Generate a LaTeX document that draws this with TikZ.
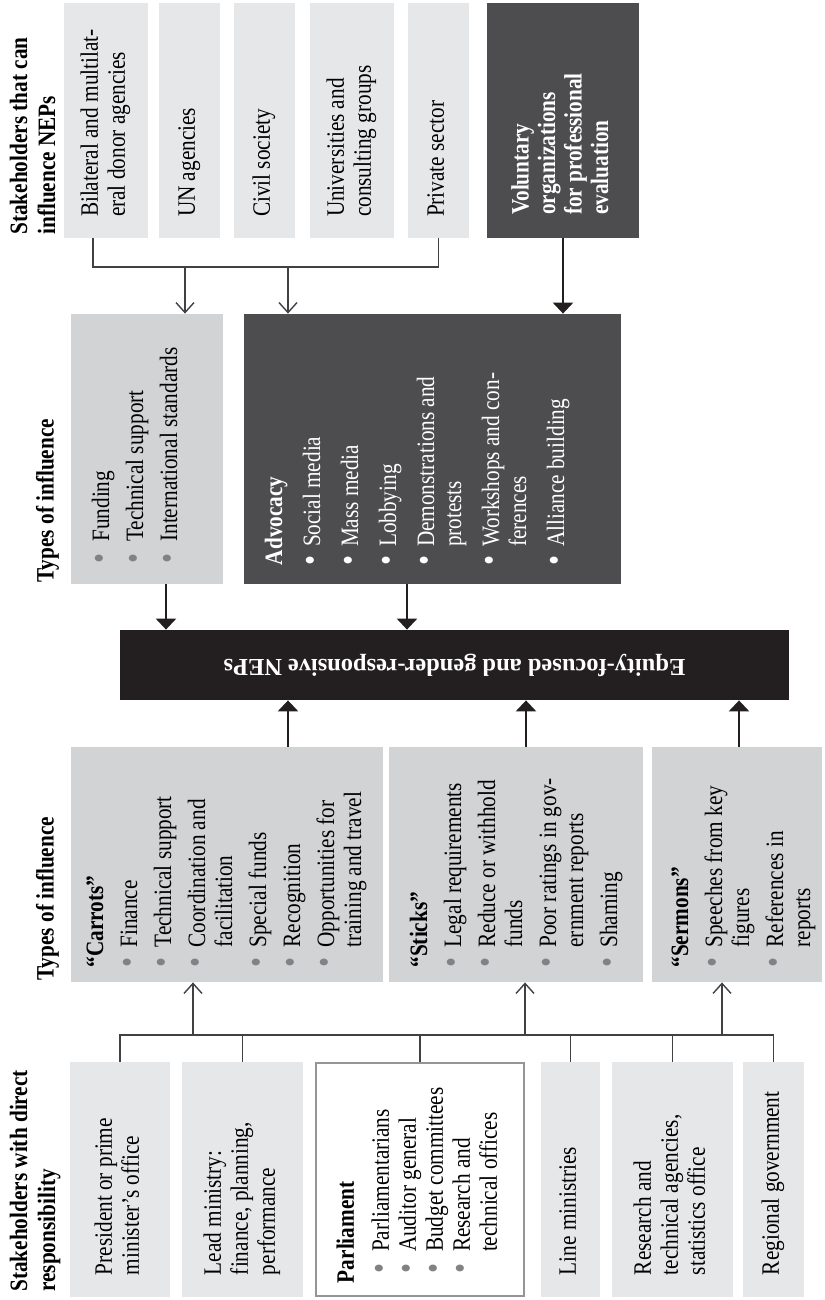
\documentclass[tikz,border=0pt]{standalone}
\usepackage{fontspec}
\setmainfont{Liberation Serif}[FakeStretch=0.85]
\newfontfamily\widefont{Liberation Serif}
\usetikzlibrary{arrows.meta,calc}

\definecolor{boxlight}{HTML}{E6E7E8}
\definecolor{boxmid}{HTML}{D1D3D4}
\definecolor{boxdark}{HTML}{4D4D4F}
\definecolor{boxblack}{HTML}{231F20}
\definecolor{dotgray}{HTML}{808285}
\definecolor{linegray}{HTML}{414042}
\definecolor{framegray}{HTML}{939598}

\newcommand{\bul}{\textcolor{dotgray}{\raisebox{-0.6pt}{\scalebox{1.35}{\textbullet}}}}
\newcommand{\wbul}{\raisebox{-0.6pt}{\scalebox{1.35}{\textbullet}}}
% text turned up the page, starting a fixed way above the bottom of its box
\newcommand{\upbox}[2]{\rotatebox{90}{\parbox{#1}{\begin{tabular}{@{}l@{}}#2\end{tabular}}}}
% bullet list turned up the page, hung from the left side of its box
\newcommand{\uplist}[4]{\rotatebox{90}{\parbox[c][#1][t]{#2}{\begin{tabular}{@{}l@{\hspace{#3}}l@{}}#4\end{tabular}}}}
\newcommand{\hd}[1]{\multicolumn{2}{@{}l@{}}{\textbf{#1}}}

\begin{document}
\begin{tikzpicture}[x=0.5pt,y=-0.5pt,
  every node/.style={inner sep=0pt,font=\fontsize{12.5}{13.5}\selectfont},
  title/.style={rotate=90,anchor=base west,font=\fontsize{12.5}{14}\selectfont\bfseries},
  light box/.style={fill=boxlight,minimum height=117.5pt},
  mid box/.style={fill=boxmid},
  dark box/.style={fill=boxdark,text=white},
  bus/.style={draw=linegray,line width=0.7pt},
  thin arrow/.style={draw=linegray,line width=0.7pt,-{Straight Barb[length=5pt,width=9pt]}},
  thick arrow/.style={draw=boxblack,line width=1.3pt,-{Triangle[length=5.5pt,width=10pt]}}]

\useasboundingbox (0,0) rectangle (824,1300);

% stakeholders that can influence
  \node[title] (t1) at (27,235) {\begin{tabular}[t]{@{}l@{}}Stakeholders that can\\influence NEPs\end{tabular}};
  \node[light box,minimum width=42pt] (bil) at (106,120.5) {\upbox{96.5pt}{Bilateral and multilat-\\eral donor agencies}};
  \node[light box,minimum width=30.5pt] (un) at (189.5,120.5) {\upbox{96.5pt}{UN agencies}};
  \node[light box,minimum width=30.5pt] (civ) at (264.5,120.5) {\upbox{96.5pt}{Civil society}};
  \node[light box,minimum width=42pt] (uni) at (352,120.5) {\upbox{96.5pt}{Universities and\\consulting groups}};
  \node[light box,minimum width=30.5pt] (priv) at (438.5,120.5) {\upbox{96.5pt}{Private sector}};
  \node[dark box,minimum width=76pt,minimum height=117.5pt,font=\fontsize{12.5}{13.25}\selectfont\bfseries] (vol) at (563,120.5)
    {\upbox{94.5pt}{Voluntary\\organizations\\for professional\\evaluation}};

% types of influence, upper
  \node[title] (t2) at (53.5,583) {Types of influence};
  \node[mid box,minimum width=76pt,minimum height=135pt] (fund) at (147,449)
    {\uplist{56.9pt}{114.7pt}{6pt}{\bul & Funding\\[3.5pt] \bul & Technical support\\[3.5pt] \bul & International standards}};
  \node[dark box,minimum width=188.5pt,minimum height=135pt] (adv) at (432.5,449)
    {\uplist{169.4pt}{116pt}{4pt}{\hd{Advocacy}\\[5.5pt]
      \wbul & Social media\\[5.5pt]
      \wbul & Mass media\\[5.5pt]
      \wbul & Lobbying\\[5.5pt]
      \wbul & Demonstrations and\\ & protests\\[5.5pt]
      \wbul & Workshops and con-\\ & ferences\\[5.5pt]
      \wbul & Alliance building}};

% the NEPs
  \node[fill=boxblack,text=white,minimum width=334.5pt,minimum height=35pt,
    font=\widefont\fontsize{12.2}{13}\selectfont\bfseries] (ctr) at (454.5,665)
    {\rotatebox{180}{Equity-focused and gender-responsive NEPs}};

% types of influence, lower
  \node[title] (t3) at (53.5,981) {Types of influence};
  \node[mid box,minimum width=156pt,minimum height=117.5pt] (car) at (227,864.5)
    {\uplist{142.9pt}{103pt}{5pt}{\hd{``Carrots''}\\[3.5pt]
      \bul & Finance\\[3.5pt]
      \bul & Technical support\\[3.5pt]
      \bul & Coordination and\\ & facilitation\\[3.5pt]
      \bul & Special funds\\[3.5pt]
      \bul & Recognition\\[3.5pt]
      \bul & Opportunities for\\ & training and travel}};
  \node[mid box,minimum width=127pt,minimum height=117.5pt] (stk) at (516,864.5)
    {\uplist{107.9pt}{103pt}{5pt}{\hd{``Sticks''}\\[3.5pt]
      \bul & Legal requirements\\[3.5pt]
      \bul & Reduce or withhold\\ & funds\\[3.5pt]
      \bul & Poor ratings in gov-\\ & ernment reports\\[3.5pt]
      \bul & Shaming}};
  \node[mid box,minimum width=85pt,minimum height=117.5pt] (ser) at (737,864.5)
    {\uplist{67.9pt}{103pt}{5pt}{\hd{``Sermons''}\\[3.5pt]
      \bul & Speeches from key\\ & figures\\[3.5pt]
      \bul & References in\\ & reports}};

% stakeholders with direct responsibility
  \node[title] (t4) at (27,1292) {\begin{tabular}[t]{@{}l@{}}Stakeholders with direct\\responsibility\end{tabular}};
  \node[light box,minimum width=50pt] (pres) at (120,1179.5) {\upbox{95.5pt}{President or prime\\minister's office}};
  \node[light box,minimum width=60.5pt] (lead) at (242.5,1179.5) {\upbox{95.5pt}{Lead ministry:\\finance, planning,\\performance}};
  \node[draw=framegray,line width=1.2pt,fill=white,minimum width=104pt,minimum height=116.3pt] (parl) at (420,1179.5)
    {\rotatebox{90}{\parbox{103.5pt}{\begin{tabular}{@{}l@{\hspace{5.5pt}}l@{}}\hd{Parliament}\\[4pt]
      \hspace{5pt}\bul & Parliamentarians\\
      \hspace{5pt}\bul & Auditor general\\
      \hspace{5pt}\bul & Budget committees\\
      \hspace{5pt}\bul & Research and\\ & technical offices\end{tabular}}}};
  \node[light box,minimum width=29.5pt] (line) at (570.5,1179.5) {\upbox{95.5pt}{Line ministries}};
  \node[light box,minimum width=60.5pt] (res) at (672.5,1179.5) {\upbox{95.5pt}{Research and\\technical agencies,\\statistics office}};
  \node[light box,minimum width=30.5pt] (reg) at (773.5,1179.5) {\upbox{95.5pt}{Regional government}};

% upper bracket
  \coordinate (ubus) at (93,267);
  \coordinate (ua) at (185,267);
  \coordinate (ub) at (288,267);
  \draw[bus] (ubus |- bil.south) -- (ubus) -| (priv.south);
  \draw[thin arrow] (ua) -- (ua |- fund.north);
  \draw[thin arrow] (ub) -- (ub |- adv.north);
  \draw[thick arrow] (vol.south) -- (vol.south |- adv.north);

% into the NEPs
  \coordinate (fa) at (166,0);
  \coordinate (aa) at (407,0);
  \coordinate (ca) at (288,0);
  \coordinate (sa) at (526,0);
  \coordinate (ra) at (739,0);
  \draw[thick arrow] (fa |- fund.south) -- (fa |- ctr.north);
  \draw[thick arrow] (aa |- adv.south) -- (aa |- ctr.north);
  \draw[thick arrow] (ca |- car.north) -- (ca |- ctr.south);
  \draw[thick arrow] (sa |- stk.north) -- (sa |- ctr.south);
  \draw[thick arrow] (ra |- ser.north) -- (ra |- ctr.south);

% lower bracket
  \coordinate (lbus) at (0,1035);
  \coordinate (cu) at (193,1035);
  \coordinate (su) at (525,1035);
  \coordinate (ru) at (722,1035);
  \draw[bus] (pres.north) |- (lbus -| reg.north) -- (reg.north);
  \foreach \n in {lead,parl,line,res}
    \draw[bus] (\n.north) -- (lbus -| \n.north);
  \draw[thin arrow] (cu) -- (cu |- car.south);
  \draw[thin arrow] (su) -- (su |- stk.south);
  \draw[thin arrow] (ru) -- (ru |- ser.south);

\end{tikzpicture}
\end{document}
